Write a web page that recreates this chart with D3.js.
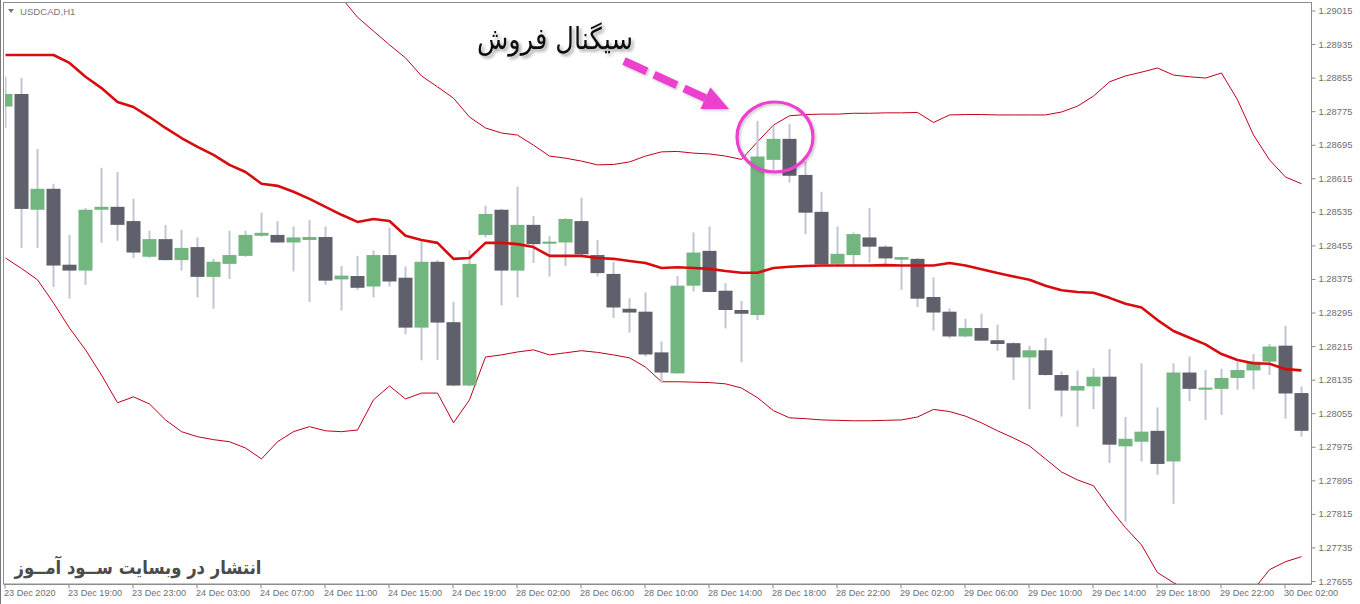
<!DOCTYPE html>
<html><head><meta charset="utf-8">
<script src="https://cdn.jsdelivr.net/npm/d3@7/dist/d3.min.js"></script>
<style>html,body{margin:0;padding:0;background:#fff;overflow:hidden}svg{display:block}</style>
</head><body>
<svg id="c" width="1360" height="604"></svg>
<script>
const symbolLabel = "USDCAD,H1";
const signalText = "سیگنال فروش";
const watermarkText = "انتشار در وبسایت ســود آمــوز";

const open = [1.28786,1.28816,1.28540,1.28590,1.28409,1.28395,1.28540,1.28547,1.28513,1.28428,
1.28470,1.28420,1.28451,1.28380,1.28411,1.28430,1.28478,1.28480,1.28462,1.28468,
1.28475,1.28374,1.28382,1.28357,1.28432,1.28378,1.28259,1.28416,1.28272,1.28121,
1.28480,1.28540,1.28395,1.28504,1.28459,1.28462,1.28513,1.28432,1.28387,1.28304,
1.28297,1.28200,1.28150,1.28359,1.28442,1.28347,1.28301,1.28289,1.28659,1.28709,
1.28623,1.28535,1.28411,1.28432,1.28474,1.28452,1.28421,1.28423,1.28332,1.28297,
1.28238,1.28258,1.28229,1.28222,1.28188,1.28205,1.28146,1.28109,1.28119,1.28142,
1.27976,1.27987,1.28013,1.27940,1.28152,1.28111,1.28113,1.28139,1.28157,1.28178,
1.28216,1.28103];
const high = [1.28857,1.28854,1.28685,1.28602,1.28480,1.28544,1.28640,1.28630,1.28566,1.28490,
1.28504,1.28492,1.28474,1.28423,1.28490,1.28490,1.28533,1.28513,1.28500,1.28516,
1.28500,1.28406,1.28430,1.28443,1.28497,1.28405,1.28468,1.28420,1.28321,1.28443,
1.28550,1.28542,1.28595,1.28525,1.28478,1.28520,1.28569,1.28468,1.28416,1.28329,
1.28343,1.28226,1.28382,1.28486,1.28500,1.28365,1.28323,1.28752,1.28740,1.28745,
1.28655,1.28583,1.28500,1.28486,1.28544,1.28455,1.28428,1.28425,1.28379,1.28305,
1.28280,1.28292,1.28266,1.28224,1.28216,1.28234,1.28154,1.28157,1.28162,1.28208,
1.28046,1.28174,1.28069,1.28174,1.28190,1.28158,1.28161,1.28178,1.28196,1.28220,
1.28263,1.28119];
const low = [1.28735,1.28449,1.28449,1.28356,1.28328,1.28361,1.28461,1.28466,1.28425,1.28425,
1.28419,1.28395,1.28331,1.28304,1.28375,1.28428,1.28476,1.28461,1.28393,1.28320,
1.28361,1.28300,1.28349,1.28331,1.28357,1.28243,1.28181,1.28182,1.28119,1.28119,
1.28474,1.28312,1.28331,1.28413,1.28381,1.28406,1.28428,1.28381,1.28282,1.28247,
1.28190,1.28128,1.28149,1.28345,1.28343,1.28257,1.28176,1.28277,1.28631,1.28605,
1.28482,1.28409,1.28406,1.28405,1.28414,1.28409,1.28349,1.28308,1.28252,1.28234,
1.28236,1.28227,1.28204,1.28134,1.28065,1.28145,1.28047,1.28023,1.28065,1.27936,
1.27796,1.27940,1.27908,1.27839,1.28084,1.28039,1.28051,1.28111,1.28112,1.28146,
1.28042,1.27999];
const close = [1.28816,1.28542,1.28590,1.28407,1.28395,1.28540,1.28547,1.28504,1.28438,1.28470,
1.28420,1.28449,1.28380,1.28416,1.28432,1.28480,1.28485,1.28462,1.28474,1.28475,
1.28371,1.28383,1.28354,1.28432,1.28369,1.28259,1.28416,1.28271,1.28121,1.28411,
1.28530,1.28395,1.28504,1.28458,1.28464,1.28518,1.28434,1.28389,1.28307,1.28295,
1.28195,1.28152,1.28359,1.28438,1.28344,1.28301,1.28292,1.28667,1.28709,1.28621,
1.28533,1.28410,1.28435,1.28482,1.28452,1.28424,1.28427,1.28328,1.28295,1.28238,
1.28258,1.28228,1.28220,1.28188,1.28205,1.28146,1.28109,1.28120,1.28142,1.27980,
1.27994,1.28011,1.27934,1.28152,1.28113,1.28116,1.28139,1.28158,1.28178,1.28214,
1.28102,1.28013];

const bbMiddle = [1.28909,1.28909,1.28909,1.28909,1.28890,1.28857,1.28830,1.28797,1.28785,1.28761,
1.28735,1.28711,1.28690,1.28671,1.28647,1.28630,1.28602,1.28597,1.28583,1.28566,
1.28547,1.28528,1.28511,1.28518,1.28513,1.28478,1.28468,1.28461,1.28423,1.28425,
1.28461,1.28461,1.28458,1.28451,1.28430,1.28430,1.28430,1.28425,1.28423,1.28418,
1.28413,1.28401,1.28403,1.28401,1.28399,1.28394,1.28390,1.28390,1.28401,1.28404,
1.28406,1.28407,1.28407,1.28407,1.28407,1.28408,1.28407,1.28407,1.28407,1.28413,
1.28407,1.28398,1.28389,1.28381,1.28373,1.28359,1.28348,1.28344,1.28342,1.28330,
1.28316,1.28307,1.28277,1.28251,1.28235,1.28219,1.28196,1.28182,1.28174,1.28173,
1.28160,1.28157];
const bbUpper = [1.29393,1.29417,1.29445,1.29500,1.29521,1.29507,1.29514,1.29514,1.29476,1.29445,
1.29431,1.29412,1.29381,1.29350,1.29307,1.29288,1.29257,1.29207,1.29154,1.29109,
1.29081,1.29045,1.28999,1.28966,1.28933,1.28902,1.28859,1.28833,1.28806,1.28761,
1.28735,1.28723,1.28718,1.28694,1.28668,1.28663,1.28656,1.28647,1.28648,1.28654,
1.28668,1.28678,1.28679,1.28675,1.28673,1.28668,1.28660,1.28702,1.28742,1.28764,
1.28767,1.28768,1.28768,1.28770,1.28770,1.28771,1.28771,1.28772,1.28748,1.28766,
1.28767,1.28767,1.28766,1.28766,1.28766,1.28766,1.28773,1.28787,1.28811,1.28845,
1.28859,1.28868,1.28878,1.28861,1.28857,1.28854,1.28866,1.28802,1.28718,1.28659,
1.28618,1.28602];
const bbLower = [1.28425,1.28400,1.28373,1.28318,1.28258,1.28206,1.28146,1.28080,1.28094,1.28077,
1.28039,1.28011,1.27999,1.27992,1.27987,1.27972,1.27946,1.27987,1.28011,1.28023,
1.28013,1.28011,1.28015,1.28087,1.28120,1.28089,1.28103,1.28103,1.28032,1.28087,
1.28189,1.28194,1.28201,1.28206,1.28194,1.28199,1.28204,1.28200,1.28194,1.28187,
1.28165,1.28130,1.28130,1.28129,1.28128,1.28125,1.28115,1.28092,1.28061,1.28044,
1.28042,1.28039,1.28038,1.28037,1.28037,1.28038,1.28039,1.28046,1.28064,1.28059,
1.28048,1.28032,1.28013,1.27996,1.27977,1.27946,1.27915,1.27896,1.27882,1.27829,
1.27782,1.27741,1.27675,1.27651,1.27629,1.27615,1.27610,1.27615,1.27634,1.27682,
1.27701,1.27713];

const yTickValues = [1.29015,1.28935,1.28855,1.28775,1.28695,1.28615,1.28535,1.28455,1.28375,
1.28295,1.28215,1.28135,1.28055,1.27975,1.27895,1.27815,1.27735,1.27655];
const xTickIndex = [0,4,8,12,16,20,24,28,32,36,40,44,48,52,56,60,64,68,72,76,80];
const xTickLabels = ["23 Dec 2020","23 Dec 19:00","23 Dec 23:00","24 Dec 03:00","24 Dec 07:00",
"24 Dec 11:00","24 Dec 15:00","24 Dec 19:00","28 Dec 02:00","28 Dec 06:00","28 Dec 10:00",
"28 Dec 14:00","28 Dec 18:00","28 Dec 22:00","29 Dec 02:00","29 Dec 06:00","29 Dec 10:00",
"29 Dec 14:00","29 Dec 18:00","29 Dec 22:00","30 Dec 02:00"];

const bars = open.map((o,i)=>({i, o, h:high[i], l:low[i], c:close[i]}));

const svg = d3.select("#c");
const W = 1360, H = 604;
const plotL = 4, plotR = 1311.5, plotT = 3, plotB = 584;
const x = d3.scaleLinear().domain([0, open.length-1]).range([5.5, 1301.5]);
const y = d3.scaleLinear().domain([1.27655, 1.29015]).range([581, 10.5]);
const bodyW = 15;

const defs = svg.append("defs");
defs.append("clipPath").attr("id","plot").append("rect")
  .attr("x", plotL+1).attr("y", plotT).attr("width", plotR-plotL-1).attr("height", plotB-plotT);
const sh = defs.append("filter").attr("id","shadow").attr("x","-20%").attr("y","-30%").attr("width","150%").attr("height","170%");
sh.append("feDropShadow").attr("dx",2.5).attr("dy",2.5).attr("stdDeviation",1.6).attr("flood-color","#000").attr("flood-opacity",0.35);
const sh2 = defs.append("filter").attr("id","shadow2").attr("x","-20%").attr("y","-30%").attr("width","150%").attr("height","170%");
sh2.append("feDropShadow").attr("dx",1.5).attr("dy",1.5).attr("stdDeviation",1.2).attr("flood-color","#000").attr("flood-opacity",0.22);

svg.append("rect").attr("width",W).attr("height",H).attr("fill","#fff");

// outer borders
svg.append("line").attr("x1",0.5).attr("x2",0.5).attr("y1",0).attr("y2",H).attr("stroke","#777");
svg.append("rect").attr("x",3.5).attr("y",2.5).attr("width",plotR-3.5).attr("height",plotB-2.5)
  .attr("fill","none").attr("stroke","#8c8c8c");

const g = svg.append("g").attr("clip-path","url(#plot)");

// bands
const line = d3.line().x((d,i)=>x(i)).y(d=>y(d));
g.append("path").datum(bbUpper).attr("d",line).attr("fill","none").attr("stroke","#c0001a").attr("stroke-width",1);
g.append("path").datum(bbLower).attr("d",line).attr("fill","none").attr("stroke","#c0001a").attr("stroke-width",1);

// wicks
g.selectAll("rect.wick").data(bars).join("rect").attr("class","wick")
  .attr("x", d=>x(d.i)-1).attr("width",2)
  .attr("y", d=>y(d.h)).attr("height", d=>Math.max(1, y(d.l)-y(d.h)))
  .attr("fill","#c3c6d3");
// bodies
g.selectAll("rect.body").data(bars).join("rect").attr("class","body")
  .attr("x", d=>x(d.i)-bodyW/2+0.5).attr("width",bodyW-1)
  .attr("y", d=>y(Math.max(d.o,d.c)))
  .attr("height", d=>Math.max(2, Math.abs(y(d.o)-y(d.c))))
  .attr("fill", d=> d.c>=d.o ? "#71b57f" : "#5f606b");

// middle band (thick)
g.append("path").datum(bbMiddle).attr("d",line).attr("fill","none").attr("stroke","#d80c0c")
  .attr("stroke-width",2.6).attr("stroke-linejoin","round");

// right axis
svg.append("line").attr("x1",plotR).attr("x2",plotR).attr("y1",plotT).attr("y2",plotB).attr("stroke","#8c8c8c");
const ya = svg.append("g").attr("transform",`translate(${plotR},0)`)
  .call(d3.axisRight(y).tickValues(yTickValues).tickSize(4).tickPadding(3).tickFormat(d3.format(".5f")));
ya.select(".domain").remove();
ya.selectAll(".tick line").attr("stroke","#8c8c8c");
ya.selectAll(".tick text").attr("fill","#6e6e6e").style("font-family","'Liberation Sans', Arial, sans-serif").style("font-size","9.4px");

// bottom axis
svg.append("line").attr("x1",plotL).attr("x2",plotR).attr("y1",plotB+0.5).attr("y2",plotB+0.5).attr("stroke","#8c8c8c");
const xa = svg.append("g").attr("transform",`translate(0,${plotB+0.5})`)
  .call(d3.axisBottom(x).tickValues(xTickIndex).tickSize(4).tickPadding(2).tickFormat((d,i)=>xTickLabels[i]));
xa.select(".domain").remove();
xa.selectAll(".tick line").attr("stroke","#8c8c8c").attr("transform","translate(-1,0)");
xa.selectAll(".tick text").attr("fill","#6e6e6e").attr("text-anchor","start").attr("x",-2).attr("dy","0.55em")
  .style("font-family","'Liberation Sans', Arial, sans-serif").style("font-size","9.1px");

// symbol label
svg.append("path").attr("d","M8,9 L14,9 L11,13 Z").attr("fill","#7a7a7a");
svg.append("text").attr("x",20).attr("y",14.5).text(symbolLabel)
  .attr("fill","#7a7a7a").style("font-family","'Liberation Sans', Arial, sans-serif").style("font-size","9.6px");

// annotation: text
svg.append("text").attr("x",555).attr("y",49).attr("text-anchor","middle")
  .attr("direction","rtl")
  .attr("textLength",156).attr("lengthAdjust","spacingAndGlyphs")
  .attr("fill","#111").attr("filter","url(#shadow)")
  .style("font-family","'DejaVu Serif','DejaVu Sans',serif").style("font-size","30px")
  .text(signalText);

// dashed arrow
const pink = "#ec3fcf";
const tip = [729,109], start = [624,61];
const dx = tip[0]-start[0], dy = tip[1]-start[1], len = Math.hypot(dx,dy);
const ux = dx/len, uy = dy/len, nx = -uy, ny = ux;
const base = [tip[0]-26*ux, tip[1]-26*uy];
const ag = svg.append("g").attr("filter","url(#shadow2)");
ag.append("line").attr("x1",start[0]).attr("y1",start[1]).attr("x2",base[0]).attr("y2",base[1])
  .attr("stroke",pink).attr("stroke-width",8).attr("stroke-dasharray","25 8");
ag.append("path").attr("d",`M${tip[0]},${tip[1]} L${base[0]+12*nx},${base[1]+12*ny} L${base[0]-12*nx},${base[1]-12*ny} Z`)
  .attr("fill",pink);

// circle
svg.append("ellipse").attr("cx",775).attr("cy",137).attr("rx",38).attr("ry",35)
  .attr("fill","none").attr("stroke",pink).attr("stroke-width",3.2).attr("filter","url(#shadow2)");

// watermark
svg.append("text").attr("x",138).attr("y",574).attr("text-anchor","middle").attr("direction","rtl")
  .attr("textLength",247).attr("lengthAdjust","spacingAndGlyphs")
  .attr("fill","#4b4b4b").style("font-weight","bold")
  .style("font-family","'DejaVu Sans',sans-serif").style("font-size","19px")
  .text(watermarkText);
</script>
</body></html>
